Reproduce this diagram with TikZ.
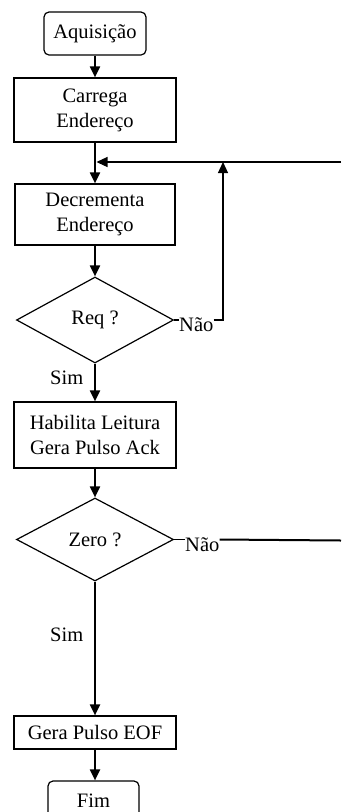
\documentclass[tikz,border=0pt]{standalone}
\usepackage{fontspec}
\setmainfont{Liberation Serif}
\usetikzlibrary{shapes.geometric,arrows.meta}
\begin{document}
\begin{tikzpicture}[x=1pt,y=-1pt,
  every node/.style={font=\fontsize{20.5}{25}\selectfont},
  procbox/.style={draw, line width=1.2pt, align=center, inner sep=0pt, minimum width=162pt},
  termbox/.style={draw, line width=1.2pt, rounded corners=5pt, inner sep=0pt},
  decision/.style={draw, diamond, line width=1.2pt, inner sep=0pt, aspect=1.8,
    minimum width=157pt},
  lbl/.style={inner sep=0pt, anchor=base west},
  flow/.style={line width=2pt, -{Triangle[width=10pt,length=11pt]}},
  thinflow/.style={line width=1.2pt, -{Triangle[width=10pt,length=11pt]}},
  back/.style={line width=1.2pt},
  backthick/.style={line width=2pt}]
  \useasboundingbox (0,0) rectangle (341,812);
  \clip (0,0) rectangle (341,812);

  % steps of the flow
  \node[termbox, minimum width=102pt, minimum height=43pt] (aq) at (95,33.5) {Aquisição};
  \node[procbox, minimum height=64pt] (carrega) at (95,110) {Carrega\\Endereço};
  \node[procbox, minimum width=160pt, minimum height=61pt] (dec) at (95,214.5) {Decrementa\\Endereço};
  \node[decision, minimum height=86pt] (req) at (95,320) {Req ?};
  \node[procbox, minimum height=66pt] (hab) at (95,435) {Habilita Leitura\\Gera Pulso Ack};
  \node[decision, minimum height=83pt] (zero) at (95,539.5) {Zero ?};
  \node[procbox, minimum height=33pt] (eof) at (95,732.5) {Gera Pulso EOF};
  % the end box runs past the lower edge of the page
  \node[termbox, minimum width=91pt, minimum height=40pt] (fim) at (93.5,801) {Fim};

  % branch labels
  \node[lbl] (nao1) at (179,331.5) {Não};
  \node[lbl] (sim1) at (50,384) {Sim};
  \node[lbl] (nao2) at (185,551.5) {Não};
  \node[lbl] (sim2) at (50,641.5) {Sim};

  % helper points of the return paths
  \coordinate (j) at (96.5,162);
  \coordinate (up) at (223,162);
  \coordinate (rt) at (341,162);
  \coordinate (rb) at (341,540.5);

  % main path
  \draw[flow] (aq.south) -- (carrega.north);
  \draw[flow] (carrega.south) -- (dec.north);
  \draw[flow] (dec.south) -- (req.north);
  \draw[flow] (req.south) -- (hab.north);
  \draw[flow] (hab.south) -- (zero.north);
  \draw[flow] (zero.south) -- (eof.north);
  \draw[flow] (eof.south) -- (eof.south |- fim.north);

  % return paths
  \draw[back] (req.east) -- (req.east -| nao1.west);
  \draw[thinflow] (req.east -| nao1.east) -| (up);
  \draw[thinflow] (rt) -- (j);
  \draw[back] (zero.east) -- (zero.east -| nao2.west);
  \draw[backthick] (zero.east -| nao2.east) -- (rb);
\end{tikzpicture}
\end{document}
